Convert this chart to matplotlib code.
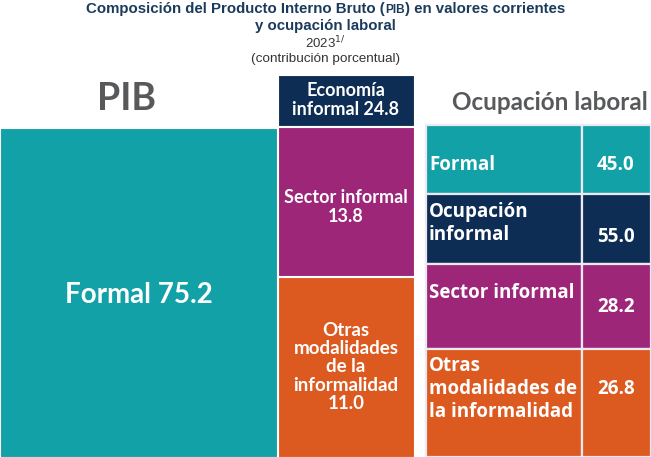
import matplotlib.pyplot as plt

# datos (contribución porcentual, 2023)
pib_labels = ["Formal", "Economía\ninformal", "Sector informal", "Otras\nmodalidades\nde la\ninformalidad"]
pib_values = [75.2, 24.8, 13.8, 11.0]
ocup_labels = ["Formal", "Ocupación\ninformal", "Sector informal", "Otras\nmodalidades de\nla informalidad"]
ocup_values = [45.0, 55.0, 28.2, 26.8]

teal = "#12A1A6"
navy = "#0E2D55"
purple = "#9D2679"
orange = "#DC5920"
line_c = "#EDE8F2"
colors = [teal, navy, purple, orange]

box_font = ["Lato", "DejaVu Sans"]
tab_font = ["Open Sans", "DejaVu Sans"]
title_font = ["Liberation Sans", "DejaVu Sans"]
title_c = "#1B3A5C"

fig = plt.figure(figsize=(6.51, 4.57), dpi=100)
ax = fig.add_axes([0, 0, 1, 1])
ax.set_xlim(0, 651)
ax.set_ylim(457, 0)
ax.axis("off")

# --- titulo (PIB en versalitas) ---
pieces = [("Composición del Producto Interno Bruto (", 10.8), ("PIB", 8.6), (") en valores corrientes", 10.8)]
fig.canvas.draw()
r = fig.canvas.get_renderer()
objs = []
for s, fs in pieces:
    t = ax.text(0, 13, s, fontsize=fs, fontweight="bold", color=title_c,
                ha="left", va="baseline", family=title_font)
    objs.append(t)
widths = [t.get_window_extent(r).width for t in objs]
x0 = 325.5 - sum(widths) / 2
for t, w in zip(objs, widths):
    t.set_x(x0)
    x0 += w
ax.text(325.5, 26, "y ocupación laboral", fontsize=10.8, fontweight="bold", color=title_c,
        ha="center", va="center", family=title_font)
ax.text(325.5, 43, r"2023$^{1/}$", fontsize=9.5, color="#333333", ha="center", va="center",
        family=title_font)
ax.text(325.5, 59, "(contribución porcentual)", fontsize=9.7, color="#333333", ha="center",
        va="center", family=title_font)

# --- encabezados ---
ax.text(127, 99, "PIB", fontsize=27, fontweight="bold", color="#58595B", ha="center",
        va="center", family=box_font)
ax.text(550, 102, "Ocupación laboral", fontsize=17.5, fontweight="bold", color="#58595B",
        ha="center", va="center", family=box_font)

# --- PIB: columna formal y columna informal ---
pib_left = [0, 278, 278, 278]
pib_width = [277, 136, 136, 136]
pib_top = [128, 75, 127, 277]
pib_height = [329, 51, 149, 180]
ax.bar(pib_left, pib_height, width=pib_width, bottom=pib_top, align="edge",
       color=colors, edgecolor="white", linewidth=0.8)

pib_text_y = [295, 100, 207, 367]
pib_fs = [20, 13, 13, 13.5]
for i in range(4):
    cx = pib_left[i] + pib_width[i] / 2
    if i < 2:
        s = f"{pib_labels[i]} {pib_values[i]:.1f}"
    else:
        s = f"{pib_labels[i]}\n{pib_values[i]:.1f}"
    ax.text(cx, pib_text_y[i], s, fontsize=pib_fs[i], fontweight="bold", color="white",
            ha="center", va="center", family=box_font, linespacing=1.08)

# --- Ocupación laboral: tabla ---
row_top = [125, 194, 264, 349]
row_h = [69, 70, 85, 108]
lab_x, lab_w = 426, 156
val_x, val_w = 582, 69
ax.bar([lab_x] * 4, row_h, width=lab_w, bottom=row_top, align="edge",
       color=colors, edgecolor=line_c, linewidth=1.6)
ax.bar([val_x] * 4, row_h, width=val_w, bottom=row_top, align="edge",
       color=colors, edgecolor=line_c, linewidth=1.6)

lab_y = [165, 224, 293, 389]
val_y = [165, 237, 307, 389]
for i in range(4):
    ax.text(lab_x + 3, lab_y[i], ocup_labels[i], fontsize=13.5, fontweight="bold",
            color="white", ha="left", va="center", family=tab_font, linespacing=1.2)
    ax.text(val_x + 15, val_y[i], f"{ocup_values[i]:.1f}", fontsize=13.5, fontweight="bold",
            color="white", ha="left", va="center", family=tab_font)

fig.savefig("out.png", dpi=100)
